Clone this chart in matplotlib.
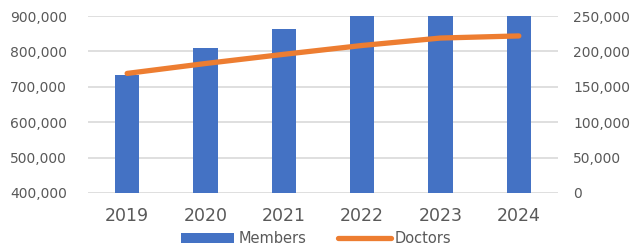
import numpy as np
import matplotlib.pyplot as plt

years = ['2019', '2020', '2021', '2022', '2023', '2024']
members = [733000, 809000, 863000, 930000, 965000, 1000000]
doctors = [169000, 183000, 196000, 208500, 219000, 222000]

blue = '#4472C4'
orange = '#ED7D31'
grey = '#595959'

fig = plt.figure(figsize=(6.33, 2.48), dpi=100)
ax = fig.add_axes([0.139, 0.222, 0.7425, 0.713])
x = np.arange(len(years))

ax.bar(x, members, width=0.31, color=blue, zorder=2, label='Members')
ax.set_ylim(400000, 900000)
ax.set_yticks(np.arange(400000, 900001, 100000))
ax.yaxis.set_major_formatter(plt.FuncFormatter(lambda v, p: f'{int(v):,}'))
ax.set_xlim(-0.5, len(years) - 0.5)
ax.set_xticks(x)
ax.set_xticklabels(years)
ax.grid(axis='y', color='#d9d9d9', linewidth=1.2, zorder=0)
for s in ax.spines.values():
    s.set_visible(False)
ax.tick_params(axis='y', length=0, pad=15, labelsize=10, labelcolor=grey)
ax.tick_params(axis='x', length=0, pad=10, labelsize=12.5, labelcolor=grey)

ax2 = ax.twinx()
ax2.plot(x, doctors, color=orange, linewidth=3.8, solid_capstyle='round', label='Doctors')
ax2.set_ylim(0, 250000)
ax2.set_yticks(np.arange(0, 250001, 50000))
ax2.yaxis.set_major_formatter(plt.FuncFormatter(lambda v, p: f'{int(v):,}'))
for s in ax2.spines.values():
    s.set_visible(False)
ax2.tick_params(axis='y', length=0, pad=11, labelsize=10, labelcolor=grey)

h1, l1 = ax.get_legend_handles_labels()
h2, l2 = ax2.get_legend_handles_labels()
fig.legend(h1 + h2, l1 + l2, loc='lower center', bbox_to_anchor=(0.5, -0.045), ncol=2,
           frameon=False, fontsize=10.5, labelcolor=grey, handlelength=3.6,
           handleheight=0.6, columnspacing=2.2, handletextpad=0.3)

fig.savefig('out.png', dpi=100)
